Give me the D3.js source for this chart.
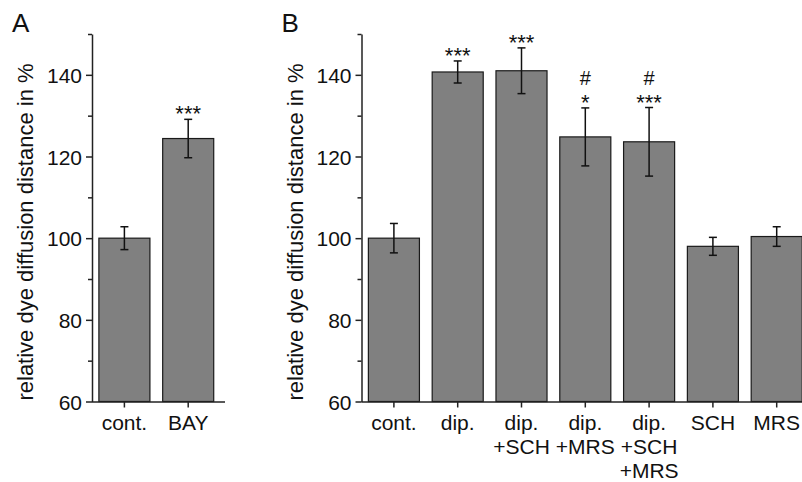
<!DOCTYPE html>
<meta charset="utf-8">
<script src="https://d3js.org/d3.v7.min.js"></script>
<style>
  body { margin: 0; background: #fff; }
  text { font-family: "Liberation Sans", Arial, sans-serif; fill: #111; }
</style>
<div id="chart"></div>
<script>

// panel A
var catsA = ["cont.", "BAY"];
var meanA = [100, 124.4];
var errA = [2.8, 4.7];
var starsA = ["", "***"];
var hashA = ["", ""];

// panel B
var catsB = ["cont.", "dip.", "dip.\n+SCH", "dip.\n+MRS", "dip.\n+SCH\n+MRS", "SCH", "MRS"];
var meanB = [100, 140.7, 141.0, 124.8, 123.6, 98.0, 100.4];
var errB = [3.6, 2.7, 5.6, 7.1, 8.4, 2.2, 2.4];
var starsB = ["", "***", "***", "*", "***", "", ""];
var hashB = ["", "", "", "#", "#", "", ""];

var majorTicks = [60, 80, 100, 120, 140];
var minorTicks = [70, 90, 110, 130, 150];
var yLabel = "relative dye diffusion distance in %";

var svg = d3.select("#chart").append("svg")
    .attr("width", 802)
    .attr("height", 482);

var y = d3.scaleLinear().domain([60, 150]).range([401.5, 34]);
var step = 63.8;

function panel(letter, axisX, axisEnd, cats, means, errs, stars, hashes) {
  var g = svg.append("g");
  var data = cats.map(function(c, i) {
    return { cat: c, mean: means[i], err: errs[i], stars: stars[i], hash: hashes[i] };
  });

  var x = d3.scaleBand()
    .domain(cats)
    .range([axisX + 0.5, axisX + 0.5 + cats.length * step])
    .paddingInner(0.2)
    .paddingOuter(0.1);

  // bars
  g.selectAll("rect.bar")
    .data(data)
    .enter().append("rect")
      .attr("class", "bar")
      .attr("x", function(d) { return x(d.cat); })
      .attr("width", x.bandwidth())
      .attr("y", function(d) { return y(d.mean); })
      .attr("height", function(d) { return y(60) - y(d.mean); })
      .attr("fill", "#808080")
      .attr("stroke", "#1a1a1a")
      .attr("stroke-width", 1.2);

  // error bars
  var cx = function(d) { return x(d.cat) + x.bandwidth() / 2; };
  var eb = g.selectAll("g.err").data(data).enter().append("g")
    .attr("stroke", "#111").attr("stroke-width", 1.5);
  eb.append("line")
    .attr("x1", cx).attr("x2", cx)
    .attr("y1", function(d) { return y(d.mean + d.err); })
    .attr("y2", function(d) { return y(d.mean - d.err); });
  eb.append("line")
    .attr("x1", function(d) { return cx(d) - 4; }).attr("x2", function(d) { return cx(d) + 4; })
    .attr("y1", function(d) { return y(d.mean + d.err); })
    .attr("y2", function(d) { return y(d.mean + d.err); });
  eb.append("line")
    .attr("x1", function(d) { return cx(d) - 4; }).attr("x2", function(d) { return cx(d) + 4; })
    .attr("y1", function(d) { return y(d.mean - d.err); })
    .attr("y2", function(d) { return y(d.mean - d.err); });

  // significance marks
  g.selectAll("text.stars").data(data).enter().append("text")
    .attr("x", cx)
    .attr("y", function(d) { return y(d.mean + d.err) + 2; })
    .attr("text-anchor", "middle")
    .style("font-size", "22px")
    .text(function(d) { return d.stars; });
  g.selectAll("text.hash").data(data).enter().append("text")
    .attr("x", cx)
    .attr("y", function(d) { return y(d.mean + d.err) - 23; })
    .attr("text-anchor", "middle")
    .style("font-size", "20px")
    .text(function(d) { return d.hash; });

  // y axis
  var ya = g.append("g")
    .attr("transform", "translate(" + axisX + ",0)")
    .call(d3.axisLeft(y).tickValues(majorTicks).tickSize(6).tickSizeOuter(0));
  ya.selectAll("text").style("font-size", "21px").attr("x", -10).attr("dy", "0.36em");
  var ym = g.append("g")
    .attr("transform", "translate(" + axisX + ",0)")
    .call(d3.axisLeft(y).tickValues(minorTicks).tickSize(4).tickSizeOuter(0).tickFormat(""));
  ym.select(".domain").remove();

  // x axis
  var xa = g.append("g")
    .attr("transform", "translate(0," + y(60) + ")")
    .call(d3.axisBottom(x).tickSize(6).tickSizeOuter(0).tickFormat(""));
  xa.select(".domain").attr("d", "M" + axisX + ",0.5H" + axisEnd);

  // multi-line category labels
  xa.selectAll(".tick").each(function(c) {
    var lines = c.split("\n");
    var t = d3.select(this).append("text")
      .attr("text-anchor", "middle")
      .style("font-size", "21px")
      .attr("fill", "#111");
    lines.forEach(function(l, i) {
      t.append("tspan").attr("x", 0).attr("y", 28 + i * 24).text(l);
    });
  });

  g.selectAll(".domain, .tick line").attr("stroke", "#222").attr("stroke-width", 1.5);

  // y label
  g.append("text")
    .attr("transform", "translate(" + (axisX - 59) + "," + 232 + ") rotate(-90)")
    .attr("text-anchor", "middle")
    .style("font-size", "22px")
    .text(yLabel);

  // panel letter
  g.append("text")
    .attr("x", axisX - 80)
    .attr("y", 32)
    .style("font-size", "26px")
    .text(letter);
}

panel("A", 92, 225, catsA, meanA, errA, starsA, hashA);
panel("B", 361.5, 802, catsB, meanB, errB, starsB, hashB);

</script>
